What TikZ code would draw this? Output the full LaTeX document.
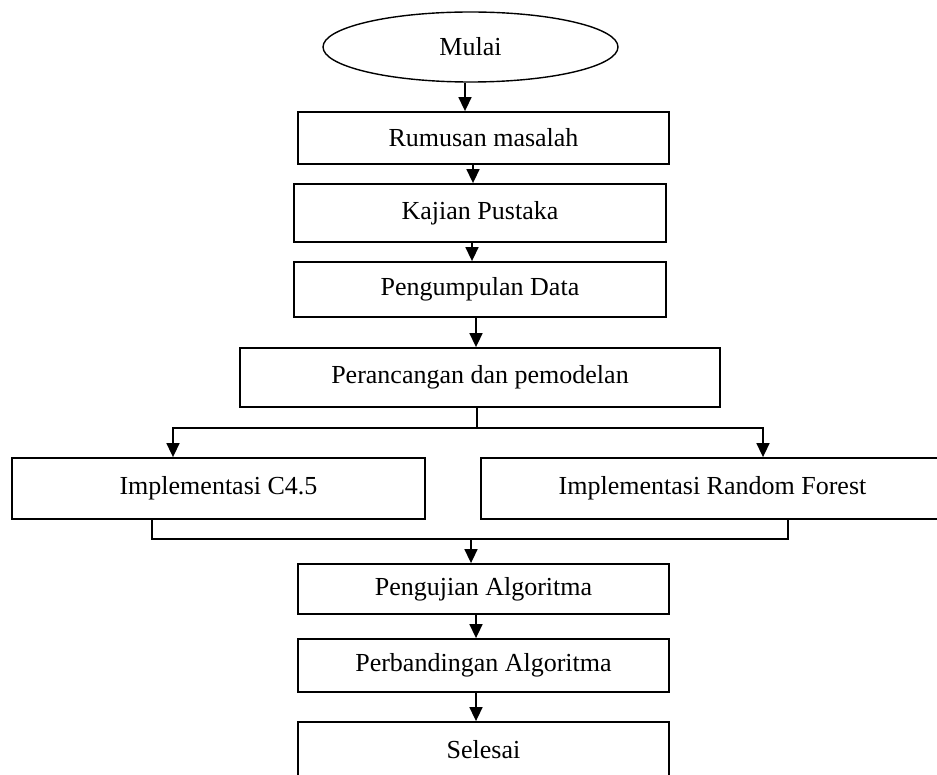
\documentclass[tikz,border=0pt]{standalone}
\usepackage{fontspec}
\setmainfont{Liberation Serif}
\usetikzlibrary{shapes.geometric,arrows.meta}
\begin{document}
\begin{tikzpicture}[x=1pt,y=-1pt,
  every node/.style={font=\fontsize{26}{30}\selectfont, inner sep=0pt},
  flowbox/.style={draw, rectangle, line width=1.8pt},
  terminal/.style={draw, ellipse, line width=1.4pt},
  link/.style={line width=1.6pt},
  arr/.style={link, -{Triangle[width=13pt,length=14pt]}}]
  \clip (0,0) rectangle (937,775);

  % process steps
  \node[terminal, minimum width=295, minimum height=70] (mulai) at (470.5,47) {Mulai};
  \node[flowbox, minimum width=371, minimum height=52] (rumusan) at (483.5,138) {Rumusan masalah};
  \node[flowbox, minimum width=372, minimum height=58] (kajian) at (480,213) {Kajian Pustaka};
  \node[flowbox, minimum width=372, minimum height=55] (data) at (480,289.5) {Pengumpulan Data};
  \node[flowbox, minimum width=480, minimum height=59] (rancang) at (480,377.5) {Perancangan dan pemodelan};
  \node[flowbox, minimum width=413, minimum height=61] (c45) at (218.5,488.5) {Implementasi C4.5};
  \node[flowbox, minimum width=463, minimum height=61] (rf) at (712.5,488.5) {Implementasi Random Forest};
  \node[flowbox, minimum width=371, minimum height=50] (uji) at (483.5,589) {Pengujian Algoritma};
  \node[flowbox, minimum width=371, minimum height=53] (banding) at (483.5,665.5) {Perbandingan Algoritma};
  \node[flowbox, minimum width=371, minimum height=56] (selesai) at (483.5,750) {Selesai};

  % branch and merge points
  \coordinate (split) at (477,428);
  \coordinate (join) at (471,539);

  % straight links
  \draw[arr] ([xshift=-5.5pt]mulai.south) -- ([xshift=-5.5pt]mulai.south |- rumusan.north);
  \draw[arr] ([xshift=-10.5pt]rumusan.south) -- ([xshift=-10.5pt]rumusan.south |- kajian.north);
  \draw[arr] ([xshift=-8pt]kajian.south) -- ([xshift=-8pt]kajian.south |- data.north);
  \draw[arr] ([xshift=-4pt]data.south) -- ([xshift=-4pt]data.south |- rancang.north);

  % split into the two implementations
  \draw[link] (split |- rancang.south) -- (split);
  \draw[arr] (split) -| ([xshift=-45.5pt]c45.north);
  \draw[arr] (split) -| ([xshift=50.5pt]rf.north);

  % merge back into testing
  \draw[link] ([xshift=-66.5pt]c45.south) |- (join) -| ([xshift=75.5pt]rf.south);
  \draw[arr] (join) -- (join |- uji.north);

  \draw[arr] ([xshift=-7.5pt]uji.south) -- ([xshift=-7.5pt]uji.south |- banding.north);
  \draw[arr] ([xshift=-7.5pt]banding.south) -- ([xshift=-7.5pt]banding.south |- selesai.north);
\end{tikzpicture}
\end{document}
